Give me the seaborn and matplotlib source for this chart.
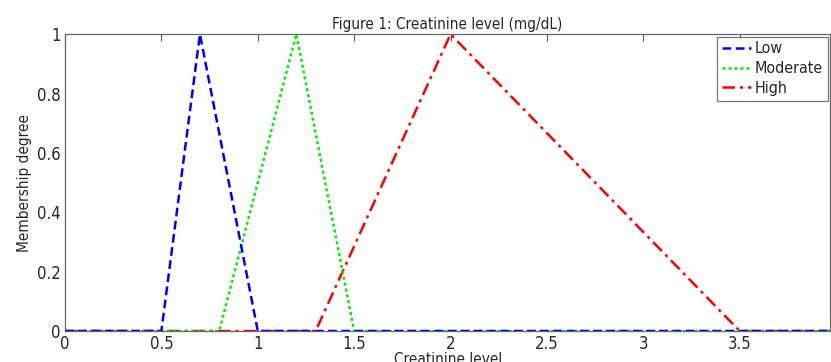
import numpy as np
import pandas as pd
import matplotlib
matplotlib.use('Agg')
import matplotlib.pyplot as plt
import seaborn as sns

# membership functions (triangular)
low_x = [0, 0.5, 0.7, 1.0, 4.0]
low_y = [0, 0, 1, 0, 0]
mod_x = [0, 0.8, 1.2, 1.5, 4.0]
mod_y = [0, 0, 1, 0, 0]
high_x = [0, 1.3, 2.0, 3.5, 4.0]
high_y = [0, 0, 1, 0, 0]

x_ticks = [0, 0.5, 1, 1.5, 2, 2.5, 3, 3.5]
x_labels = ['0', '0.5', '1', '1.5', '2', '2.5', '3', '3.5']
y_ticks = [0, 0.2, 0.4, 0.6, 0.8, 1]
y_labels = ['0', '0.2', '0.4', '0.6', '0.8', '1']

sns.set_style('white')
plt.rcParams['font.family'] = ['DejaVu Sans']
plt.rcParams['font.stretch'] = 'condensed'

fig = plt.figure(figsize=(8.31, 3.62), dpi=100)
ax = fig.add_axes([0.0782, 0.0856, 0.921, 0.82])

df_low = pd.DataFrame({'x': low_x, 'y': low_y})
df_mod = pd.DataFrame({'x': mod_x, 'y': mod_y})
df_high = pd.DataFrame({'x': high_x, 'y': high_y})

sns.lineplot(data=df_high, x='x', y='y', ax=ax, color='#ff0000', lw=1.8,
             sort=False, label='High', zorder=2)
sns.lineplot(data=df_mod, x='x', y='y', ax=ax, color='#00ee00', lw=1.8,
             sort=False, label='Moderate', zorder=3)
sns.lineplot(data=df_low, x='x', y='y', ax=ax, color='#0000ff', lw=1.8,
             sort=False, label='Low', zorder=4)
ax.lines[0].set_dashes([5, 2, 1.2, 2])
ax.lines[1].set_linestyle((0, (1.2, 1.2)))
ax.lines[2].set_linestyle((0, (3.5, 1.8)))

ax.set_xlim(0, 3.97)
ax.set_ylim(0, 1)
ax.set_xticks(x_ticks)
ax.set_xticklabels(x_labels)
ax.set_yticks(y_ticks)
ax.set_yticklabels(y_labels)
ax.tick_params(direction='in', length=5, width=0.8, color='#555555',
               top=True, right=False, labelsize=12, pad=3)
for s in ax.spines.values():
    s.set_color('#666666')
    s.set_linewidth(0.9)

ax.set_title('Figure 1: Creatinine level (mg/dL)', fontsize=11, pad=4)
ax.set_xlabel('Creatinine level', fontsize=11, labelpad=-1)
ax.set_ylabel('Membership degree', fontsize=11, labelpad=4)

h, l = ax.get_legend_handles_labels()
leg = ax.legend(h[::-1], l[::-1], loc='upper right', fontsize=11.5,
                frameon=True, fancybox=False, handlelength=1.8,
                handletextpad=0.25, borderpad=0.3, labelspacing=0.3,
                borderaxespad=0.15)
leg.get_frame().set_edgecolor('#555555')
leg.get_frame().set_linewidth(0.9)

fig.savefig('out.png', dpi=100)
